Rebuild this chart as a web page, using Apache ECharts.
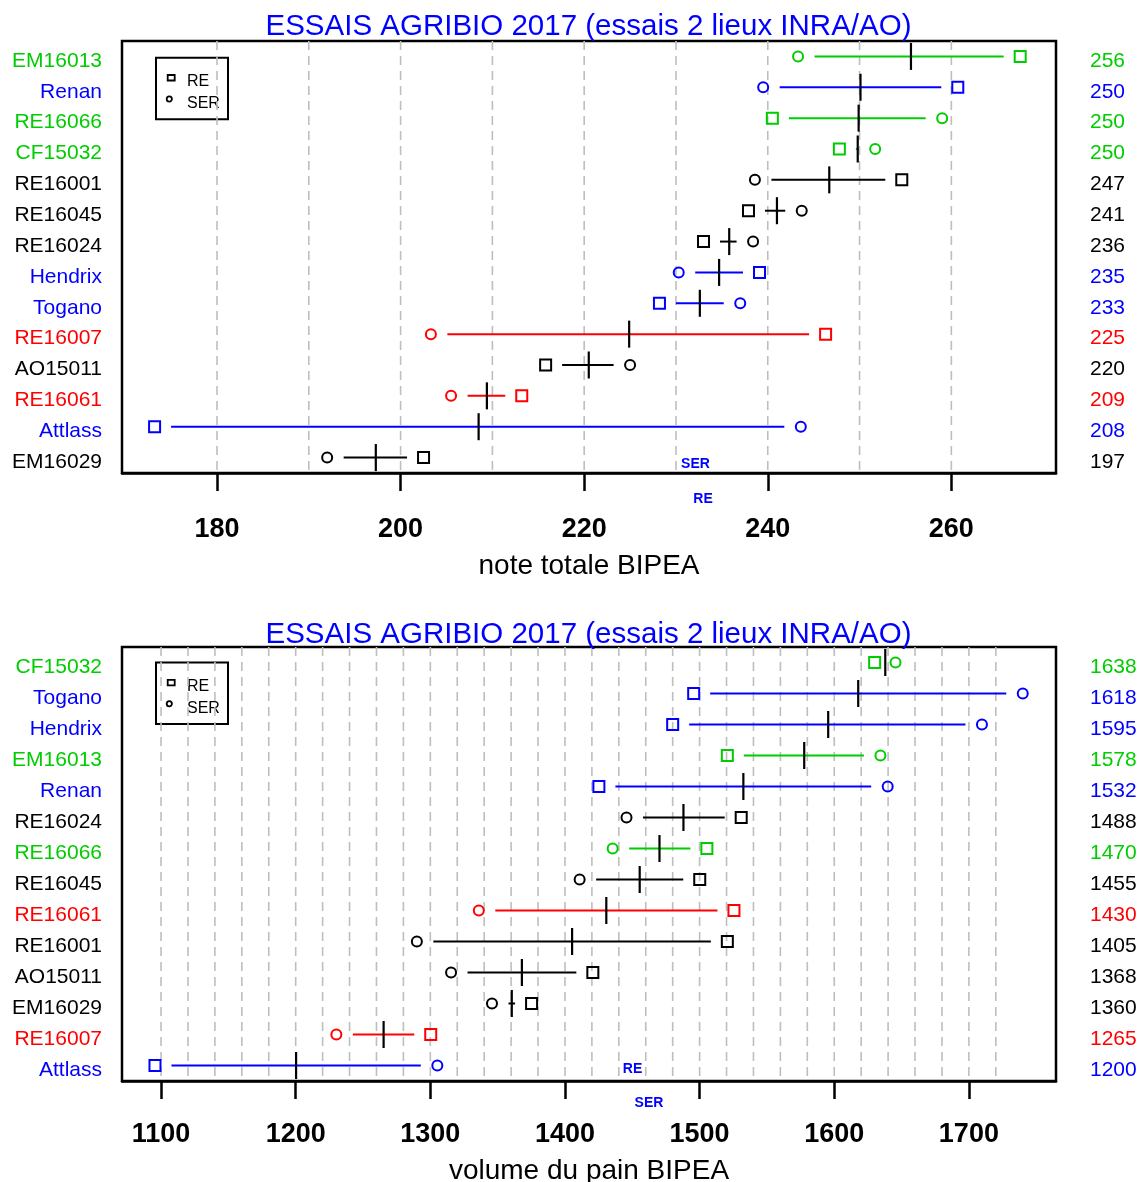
<!DOCTYPE html>
<html>
<head>
<meta charset="utf-8">
<script src="https://cdn.jsdelivr.net/npm/echarts@6/dist/echarts.min.js"></script>
<style>
  html, body { margin: 0; padding: 0; background: #fff; }
  #main { width: 1140px; height: 1182px; }
</style>
</head>
<body>
<div id="main"></div>
<script>
// top chart : note totale BIPEA
var namesTop = ['EM16013', 'Renan', 'RE16066', 'CF15032', 'RE16001', 'RE16045', 'RE16024', 'Hendrix', 'Togano', 'RE16007', 'AO15011', 'RE16061', 'Attlass', 'EM16029'];
var colorsTop = ['g', 'b', 'g', 'g', 'k', 'k', 'k', 'b', 'b', 'r', 'k', 'r', 'b', 'k'];
var reTop = [267.5, 260.7, 240.5, 247.8, 254.6, 237.9, 233.0, 239.1, 228.2, 246.3, 215.8, 213.2, 173.2, 202.5];
var serTop = [243.3, 239.5, 259.0, 251.7, 238.6, 243.7, 238.4, 230.3, 237.0, 203.3, 225.0, 205.5, 243.6, 192.0];
var meanTop = [255.6, 250.1, 249.9, 249.8, 246.7, 241.0, 235.8, 234.7, 232.6, 224.9, 220.5, 209.4, 208.5, 197.3];
var meanLblTop = ['256', '250', '250', '250', '247', '241', '236', '235', '233', '225', '220', '209', '208', '197'];
var ticksTop = [180, 200, 220, 240, 260];
var gridTop = [180, 190, 200, 210, 220, 230, 240, 250, 260];

// bottom chart : volume du pain BIPEA
var namesBot = ['CF15032', 'Togano', 'Hendrix', 'EM16013', 'Renan', 'RE16024', 'RE16066', 'RE16045', 'RE16061', 'RE16001', 'AO15011', 'EM16029', 'RE16007', 'Attlass'];
var colorsBot = ['g', 'b', 'b', 'g', 'b', 'k', 'g', 'k', 'r', 'k', 'k', 'k', 'r', 'b'];
var reBot = [1630, 1495.6, 1480, 1520.6, 1425.2, 1530.9, 1505.4, 1500.1, 1525.5, 1520.6, 1420.7, 1375.2, 1300.3, 1095.5];
var serBot = [1645.5, 1740, 1709.7, 1634.3, 1639.7, 1445.7, 1435.4, 1410.9, 1336, 1290, 1315.4, 1345.8, 1230.2, 1305.2];
var meanBot = [1637.9, 1617.8, 1595.5, 1577.7, 1532.5, 1488, 1470.2, 1455.5, 1430.7, 1405.3, 1368, 1360.5, 1265.3, 1200.3];
var meanLblBot = ['1638', '1618', '1595', '1578', '1532', '1488', '1470', '1455', '1430', '1405', '1368', '1360', '1265', '1200'];
var ticksBot = [1100, 1200, 1300, 1400, 1500, 1600, 1700];
var gridBot = [1100, 1120, 1140, 1160, 1180, 1200, 1220, 1240, 1260, 1280, 1300, 1320, 1340, 1360, 1380, 1400, 1420, 1440, 1460, 1480, 1500, 1520, 1540, 1560, 1580, 1600, 1620, 1640, 1660, 1680, 1700, 1720];

(function () {
  var FONT = '"Liberation Sans", Arial, sans-serif';
  var COL = { g: '#00cd00', b: '#0000ff', r: '#ff0000', k: '#000000' };

  function rows(re, ser, mean) {
    var d = [];
    for (var i = 0; i < re.length; i++) {
      d.push([re[i], ser[i], mean[i], i]);
    }
    return d;
  }

  // segment RE-SER (avec trous autour des points), trait vertical = moyenne
  function renderRow(colors) {
    return function (params, api) {
      var row = api.value(3);
      var pRe = api.coord([api.value(0), row]);
      var pSer = api.coord([api.value(1), row]);
      var pMean = api.coord([api.value(2), row]);
      var c = COL[colors[row]];
      var y = pRe[1];
      var gap = 16.5;
      var x1 = Math.min(pRe[0], pSer[0]) + gap;
      var x2 = Math.max(pRe[0], pSer[0]) - gap;
      var children = [];
      if (x2 > x1) {
        children.push({ type: 'line', shape: { x1: x1, y1: y, x2: x2, y2: y }, style: { stroke: c, lineWidth: 2 } });
      }
      children.push({ type: 'line', shape: { x1: pMean[0], y1: y - 13.5, x2: pMean[0], y2: y + 13.5 }, style: { stroke: '#000', lineWidth: 2.2 } });
      children.push({ type: 'rect', shape: { x: pRe[0] - 5.5, y: y - 5.5, width: 11, height: 11 }, style: { fill: 'none', stroke: c, lineWidth: 2 } });
      children.push({ type: 'circle', shape: { cx: pSer[0], cy: y, r: 5 }, style: { fill: 'none', stroke: c, lineWidth: 2 } });
      return { type: 'group', children: children };
    };
  }

  function renderGrid(params, api) {
    var x = api.coord([api.value(0), 0])[0];
    var cs = params.coordSys;
    return {
      type: 'line',
      shape: { x1: x, y1: cs.y, x2: x, y2: cs.y + cs.height },
      style: { stroke: '#bebebe', lineWidth: 1.6, lineDash: [9, 6] }
    };
  }

  function xAxis(gi, min, max, ticks, name, margin, gapName) {
    return {
      gridIndex: gi, type: 'value', min: min, max: max,
      axisLine: { show: true, lineStyle: { color: '#000', width: 2.5 } },
      splitLine: { show: false },
      axisTick: { show: true, inside: false, length: 18, customValues: ticks, lineStyle: { color: '#000', width: 2.5 } },
      axisLabel: {
        customValues: ticks, fontSize: 27, fontWeight: 'bold', color: '#000', margin: margin, fontFamily: FONT,
        formatter: function (v) { return String(v); }
      },
      name: name, nameLocation: 'middle', nameGap: gapName,
      nameTextStyle: { fontSize: 28, color: '#000', fontFamily: FONT }
    };
  }

  function yAxis(gi, names, colors, right, labels) {
    return {
      gridIndex: gi, type: 'category', data: names, inverse: true,
      position: right ? 'right' : 'left',
      axisLine: { show: false }, axisTick: { show: false }, splitLine: { show: false },
      axisLabel: {
        fontSize: 21, fontFamily: FONT, margin: right ? 34 : 20,
        verticalAlign: 'top', lineHeight: 9,
        color: function (v, i) { return COL[colors[i]]; },
        formatter: function (v, i) { return right ? labels[i] : v; }
      }
    };
  }

  function legend(top) {
    return [
      { type: 'rect', shape: { x: 156, y: top, width: 72, height: 61.5 }, style: { fill: 'none', stroke: '#000', lineWidth: 2 } },
      { type: 'rect', shape: { x: 167.7, y: top + 17.3, width: 7, height: 5.5 }, style: { fill: 'none', stroke: '#000', lineWidth: 1.8 } },
      { type: 'text', x: 187, y: top + 23.6, style: { text: 'RE', font: '16px ' + FONT, fill: '#000', verticalAlign: 'middle' } },
      { type: 'circle', shape: { cx: 169.3, cy: top + 41.3, r: 2.6 }, style: { fill: 'none', stroke: '#000', lineWidth: 1.8 } },
      { type: 'text', x: 187, y: top + 46, style: { text: 'SER', font: '16px ' + FONT, fill: '#000', verticalAlign: 'middle' } }
    ];
  }

  function smallText(txt, x, y) {
    return { type: 'text', x: x, y: y, style: { text: txt, font: 'bold 14px ' + FONT, fill: '#0000ff', align: 'center', verticalAlign: 'middle' } };
  }

  var myChart = echarts.init(document.getElementById('main'));

  var titleText = 'ESSAIS AGRIBIO 2017 (essais 2 lieux INRA/AO)';

  var option = {
    animation: false,
    backgroundColor: '#fff',
    title: [
      { text: titleText, left: 588.5, top: 12, textAlign: 'center', padding: 0, textStyle: { fontSize: 29.5, fontWeight: 'normal', color: '#0000ff', fontFamily: FONT } },
      { text: titleText, left: 588.5, top: 620, textAlign: 'center', padding: 0, textStyle: { fontSize: 29.5, fontWeight: 'normal', color: '#0000ff', fontFamily: FONT } }
    ],
    grid: [
      { left: 122, top: 41, width: 934, height: 432, show: true, borderColor: '#000', borderWidth: 2.5, backgroundColor: 'transparent', outerBoundsMode: 'none' },
      { left: 122, top: 647, width: 934, height: 434, show: true, borderColor: '#000', borderWidth: 2.5, backgroundColor: 'transparent', outerBoundsMode: 'none' }
    ],
    xAxis: [
      xAxis(0, 169.65, 271.4, ticksTop, 'note totale BIPEA', 43, 79),
      xAxis(1, 1071, 1764.7, ticksBot, 'volume du pain BIPEA', 40.5, 76)
    ],
    yAxis: [
      yAxis(0, namesTop, colorsTop, false),
      yAxis(0, namesTop, colorsTop, true, meanLblTop),
      yAxis(1, namesBot, colorsBot, false),
      yAxis(1, namesBot, colorsBot, true, meanLblBot)
    ],
    graphic: legend(57.7).concat(legend(662.5)).concat([
      smallText('SER', 695.5, 464),
      smallText('RE', 703, 499.5),
      smallText('RE', 632.5, 1069.5),
      smallText('SER', 649, 1103)
    ]),
    series: [
      { type: 'custom', name: 'gridTop', xAxisIndex: 0, yAxisIndex: 0, z: 1, silent: true, renderItem: renderGrid, data: gridTop.map(function (v) { return [v, 0]; }), encode: { x: 0, y: 1 } },
      { type: 'custom', name: 'gridBot', xAxisIndex: 1, yAxisIndex: 2, z: 1, silent: true, renderItem: renderGrid, data: gridBot.map(function (v) { return [v, 0]; }), encode: { x: 0, y: 1 } },
      { type: 'custom', name: 'BIPEA', xAxisIndex: 0, yAxisIndex: 0, z: 3, clip: false, renderItem: renderRow(colorsTop), data: rows(reTop, serTop, meanTop), encode: { x: [0, 1, 2], y: 3 } },
      { type: 'custom', name: 'volume', xAxisIndex: 1, yAxisIndex: 2, z: 3, clip: false, renderItem: renderRow(colorsBot), data: rows(reBot, serBot, meanBot), encode: { x: [0, 1, 2], y: 3 } }
    ]
  };

  myChart.setOption(option);

  window.addEventListener('resize', function () {
    myChart.resize();
  });
})();
</script>
</body>
</html>
